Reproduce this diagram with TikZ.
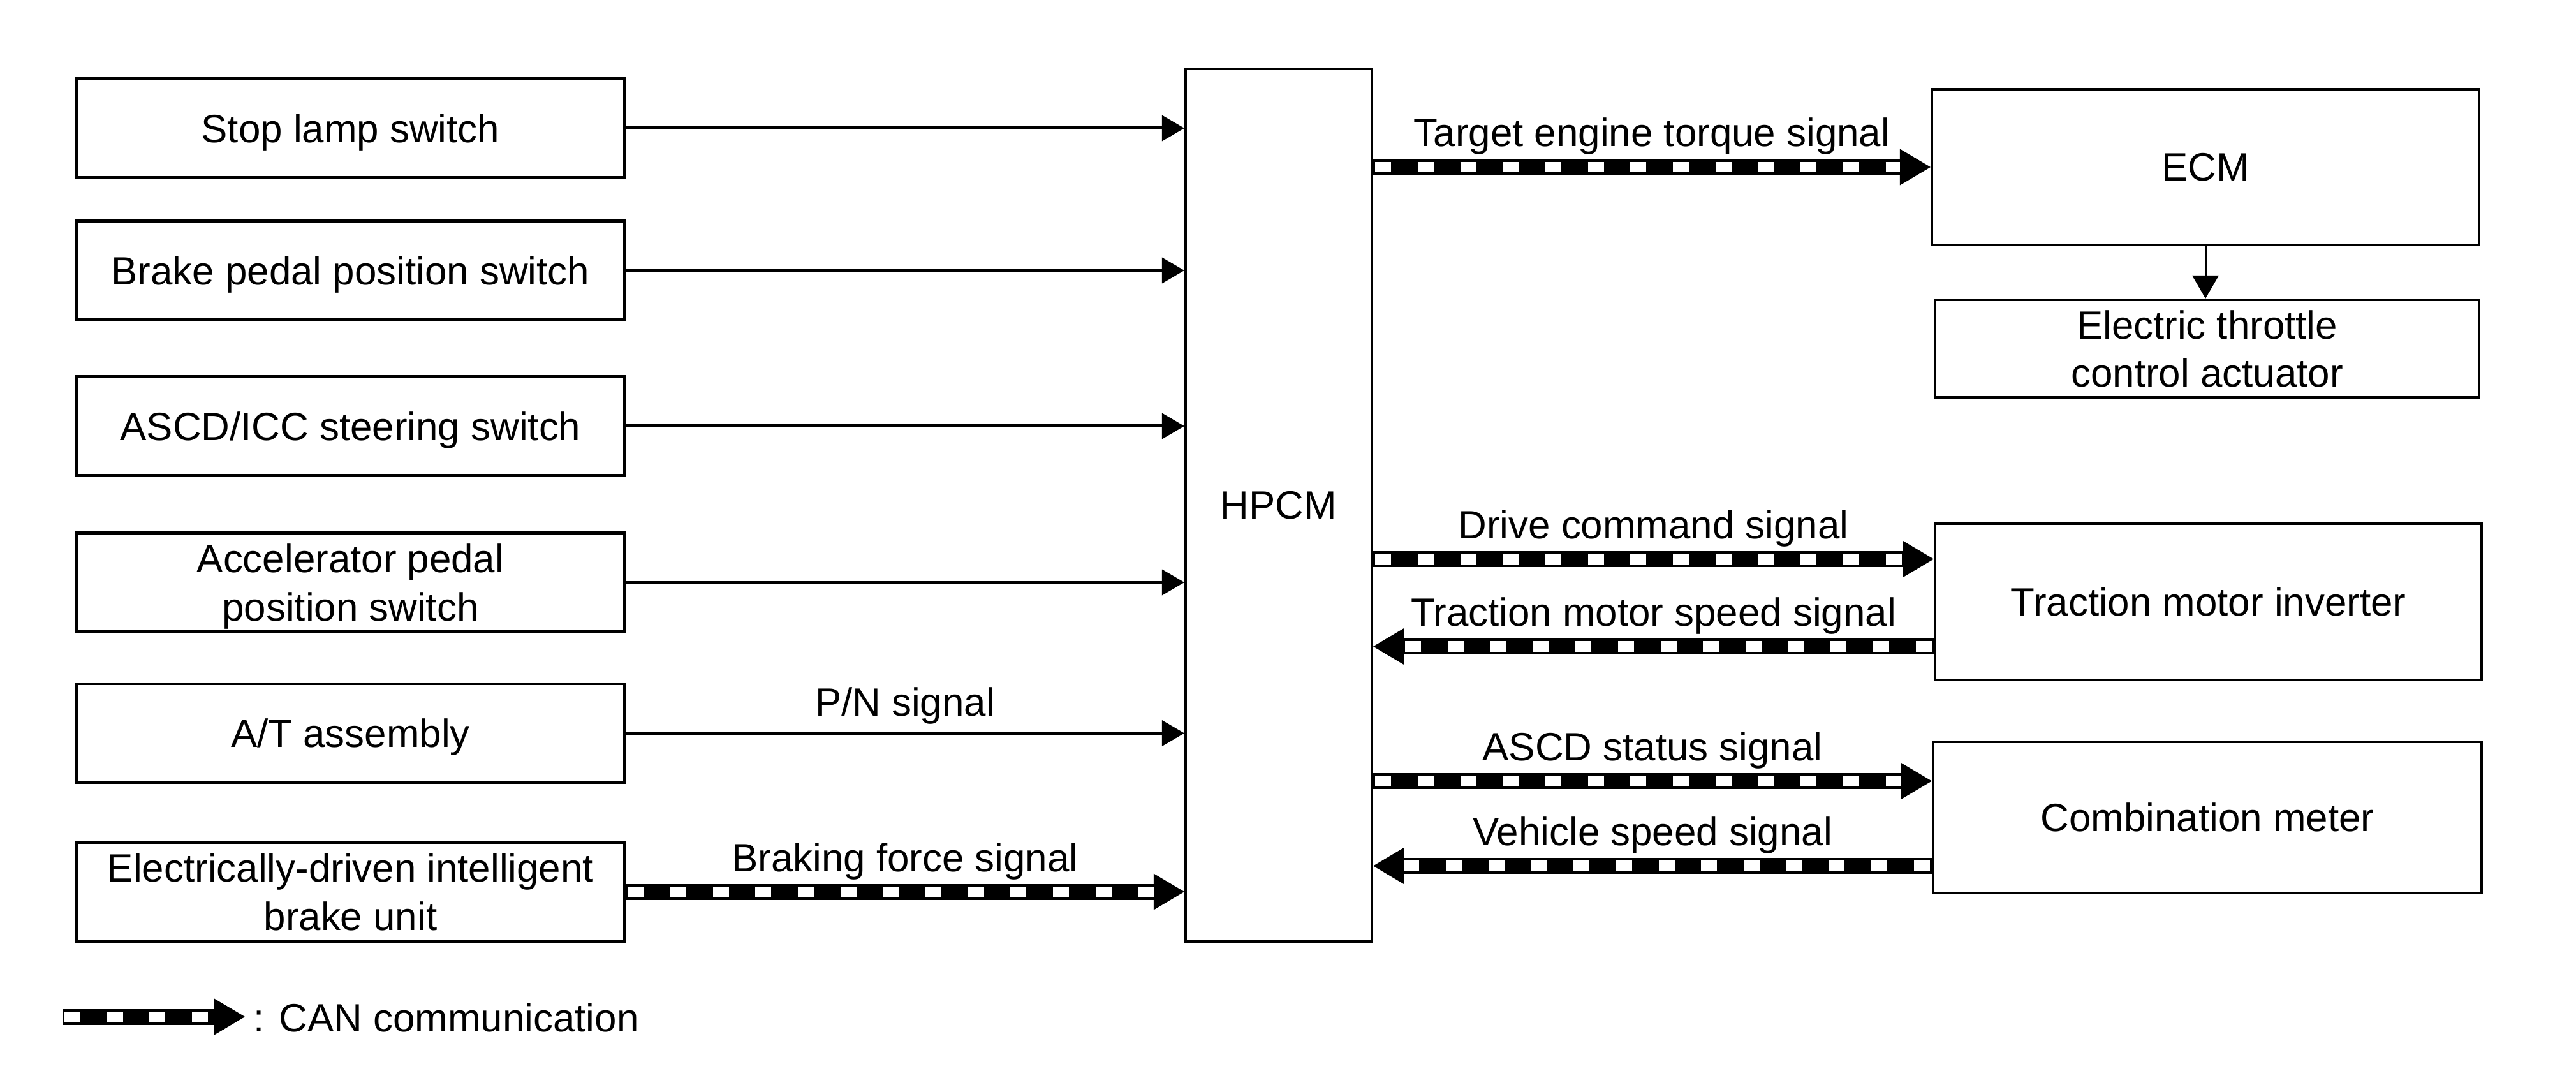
\documentclass[tikz,border=0pt]{standalone}
\usepackage{fontspec}
\setmainfont{Liberation Sans}
\usetikzlibrary{arrows.meta}

\begin{document}
\begin{tikzpicture}[
	font=\fontsize{17.6pt}{21.5pt}\selectfont,
	unit/.style={draw, line width=0.43mm, inner sep=0pt, align=center, text depth=0pt,
		minimum width=8.59cm, minimum height=1.55cm},
	wire/.style={line width=0.5mm, -{Triangle[length=3.5mm, width=4.1mm, line width=0pt]}},
	can/.style={line width=2.5mm, -{Triangle[length=4.8mm, width=5.7mm, line width=0pt]},
		postaction={draw=white, -, line width=1.65mm, shorten >=4.8mm,
			dash pattern=on 2.5mm off 4.17mm, dash phase=6.37mm}},
	sig/.style={midway, anchor=base, yshift=3.2mm}
]
	\useasboundingbox (0,0) rectangle (40.39,-17.01);

	% inputs
	\node[unit] (stop) at (5.495,-2.01) {Stop lamp switch};
	\node[unit] (brake) at (5.495,-4.24) {Brake pedal position switch};
	\node[unit] (steer) at (5.495,-6.68) {ASCD/ICC steering switch};
	\node[unit] (accel) at (5.495,-9.13) {Accelerator pedal\\position switch};
	\node[unit] (at) at (5.495,-11.495) {A/T assembly};
	\node[unit] (ebrake) at (5.495,-13.98) {Electrically-driven intelligent\\brake unit};

	\node[unit, minimum width=2.92cm, minimum height=13.68cm] (hpcm) at (20.05,-7.92) {HPCM};

	% outputs
	\node[unit, minimum width=8.58cm, minimum height=2.435cm] (ecm) at (34.58,-2.62) {ECM};
	\node[unit, minimum width=8.53cm, minimum height=1.53cm] (etc) at (34.605,-5.465) {Electric throttle\\control actuator};
	\node[unit, minimum width=8.57cm, minimum height=2.45cm] (inv) at (34.625,-9.435) {Traction motor inverter};
	\node[unit, minimum width=8.6cm, minimum height=2.37cm] (meter) at (34.61,-12.815) {Combination meter};

	\draw[wire] (stop.east) -- (stop.east -| hpcm.west);
	\draw[wire] (brake.east) -- (brake.east -| hpcm.west);
	\draw[wire] (steer.east) -- (steer.east -| hpcm.west);
	\draw[wire] (accel.east) -- (accel.east -| hpcm.west);
	\draw[wire] (at.east) -- (at.east -| hpcm.west) node[sig, yshift=-0.5mm] {P/N signal};
	\draw[can] (ebrake.east) -- (ebrake.east -| hpcm.west) node[sig] {Braking force signal};

	\coordinate (inv-in) at ([yshift=6.7mm]inv.west);
	\coordinate (inv-out) at ([yshift=-7mm]inv.west);
	\coordinate (meter-in) at ([yshift=5.7mm]meter.west);
	\coordinate (meter-out) at ([yshift=-7.6mm]meter.west);

	\draw[can] (ecm.west -| hpcm.east) -- (ecm.west) node[sig] {Target engine torque signal};
	\draw[can] (inv-in -| hpcm.east) -- (inv-in) node[sig] {Drive command signal};
	\draw[can] (inv-out) -- (inv-out -| hpcm.east) node[sig] {Traction motor speed signal};
	\draw[can] (meter-in -| hpcm.east) -- (meter-in) node[sig] {ASCD status signal};
	\draw[can] (meter-out) -- (meter-out -| hpcm.east) node[sig] {Vehicle speed signal};

	\draw[line width=0.3mm, -{Triangle[length=3.6mm, width=4.2mm, line width=0pt]}] (ecm.south) -- (ecm.south |- etc.north);

	% legend
	\coordinate (key-a) at (0.98,-15.94);
	\coordinate (key-b) at (3.84,-15.94);
	\draw[can] (key-a) -- (key-b);
	\node[anchor=base west, inner sep=0pt] (key) at (3.97,-16.17) {: CAN communication};
\end{tikzpicture}
\end{document}
